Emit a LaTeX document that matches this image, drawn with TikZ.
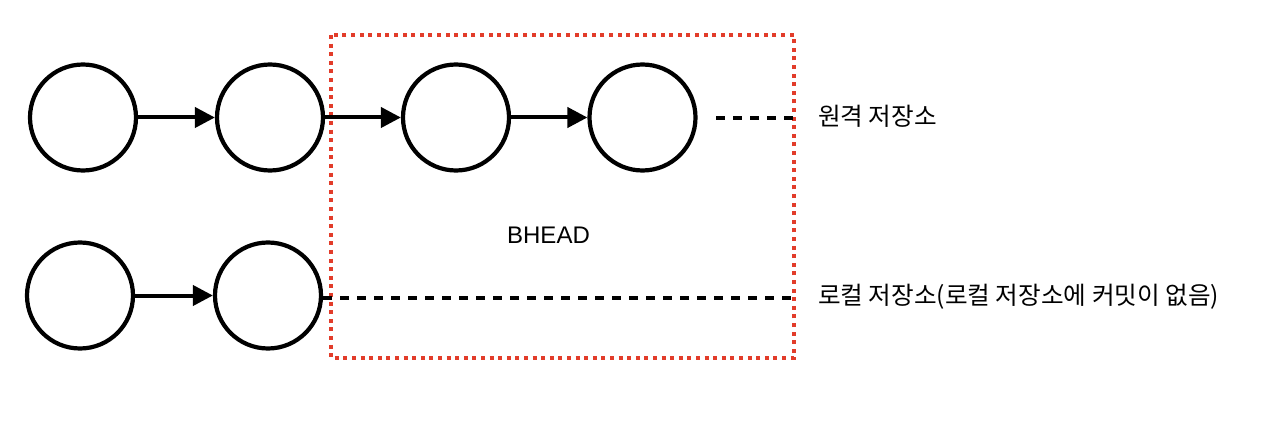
\documentclass[tikz,border=0pt]{standalone}
\usepackage{fontspec}
\setmainfont{Liberation Sans}
\newfontfamily\krfont{Noto Sans CJK KR}
\usetikzlibrary{arrows.meta}
\definecolor{boxred}{RGB}{226,60,42}
\begin{document}
\begin{tikzpicture}[x=1pt,y=-1pt,
  commit/.style={circle,draw=black,line width=4.2pt,minimum size=106pt,inner sep=0pt},
  link/.style={line width=4pt,-{Triangle[length=20pt,width=20pt]}},
  pending/.style={line width=4pt,dash pattern=on 9pt off 8pt},
  region/.style={draw=boxred,line width=3.4pt,dash pattern=on 4pt off 4.6pt},
  label/.style={anchor=base west,inner sep=0pt,font=\krfont\fontsize{24.6}{29}\selectfont}]
\useasboundingbox (0,0) rectangle (1280,422);
% red region
\draw[region] (331,35) rectangle (794,358);
% remote commits
\node[commit] (r1) at (83,117.5) {};
\node[commit] (r2) at (270,117.5) {};
\node[commit] (r3) at (456,117.5) {};
\node[commit] (r4) at (642.5,117.5) {};
% local commits
\node[commit] (l1) at (80,295.5) {};
\node[commit] (l2) at (268,295.5) {};
\draw[link] (r1) -- (r2);
\draw[link] (r2) -- (r3);
\draw[link] (r3) -- (r4);
\draw[link] (l1) -- (l2);
% dashed continuation
\coordinate (rs) at (716,118);
\coordinate (re) at (793,118);
\coordinate (le) at (793,297.5);
\draw[pending] (rs) -- (re);
\draw[pending] (l2.east |- le) -- (le);
% labels
\node[label] (remote) at (818,126) {원격 저장소};
\node[label] (local) at (818,304.5) {로컬 저장소(로컬 저장소에 커밋이 없음)};
\node[anchor=base,inner sep=0pt,font=\fontsize{24}{28}\selectfont] (bhead) at (548.5,243.7) {BHEAD};
\end{tikzpicture}
\end{document}
